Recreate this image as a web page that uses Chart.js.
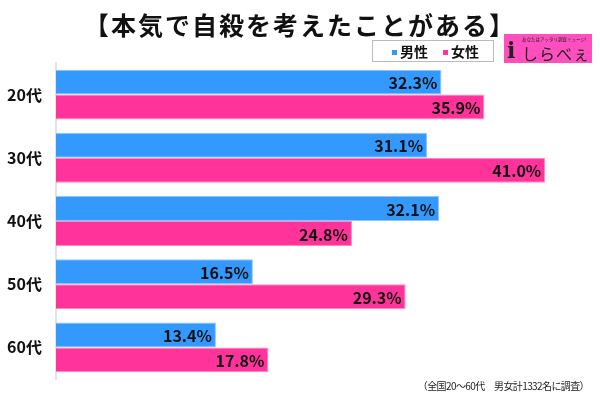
<!DOCTYPE html>
<html>
<head>
<meta charset="utf-8">
<script src="https://cdn.jsdelivr.net/npm/chart.js@4/dist/chart.umd.min.js"></script>
<style>
  html, body { margin: 0; padding: 0; background: #fff; }
  body { width: 600px; height: 397px; position: relative; overflow: hidden;
         font-family: "Noto Sans CJK JP", "Noto Sans", sans-serif; }
  #wrap { position: absolute; left: 0; top: 0; width: 600px; height: 397px; }
  .title { position: absolute; left: 50px; top: 7px; width: 500px; text-align: center;
           font-size: 25px; font-weight: bold; color: #111; line-height: 34px; letter-spacing: 2px; }
  .legend { position: absolute; left: 372px; top: 40px; width: 120px; height: 20px;
            border: 1px solid #bbb; font-size: 14px; font-weight: bold; line-height: 20px; color: #111; }
  .legend .item { position: absolute; top: 0; white-space: nowrap; }
  .legend .sw { display: inline-block; width: 5px; height: 5px; margin: 0 3px 2px 0; vertical-align: middle; }
  .logo { position: absolute; left: 504px; top: 34px; width: 88px; height: 29px; background: #ff4fbf; }
  .logo .tag { position: absolute; left: 18px; top: 2px; font-size: 5px; color: #222; white-space: nowrap; transform: scale(0.9); transform-origin: left top; }
  .logo .icon { position: absolute; left: 3px; top: 4px; font-size: 22px; font-weight: bold; color: #222; line-height: 24px; font-family: "DejaVu Serif", serif; }
  .logo .name { position: absolute; left: 18px; top: 9px; font-size: 16px; color: #222; line-height: 20px; white-space: nowrap; letter-spacing: 1px; }
  .note { position: absolute; right: 11px; top: 378px; font-size: 10px; color: #222; white-space: nowrap; letter-spacing: -0.6px; }
</style>
</head>
<body>
<div id="wrap"><canvas id="chart" width="600" height="397"></canvas></div>
<div class="title">【本気で自殺を考えたことがある】</div>
<div class="legend">
  <span class="item" style="left:19px;"><span class="sw" style="background:#3399ff"></span>男性</span>
  <span class="item" style="left:70px;"><span class="sw" style="background:#ff3399"></span>女性</span>
</div>
<div class="logo"><div class="tag">あなたはアッタリ調査ミュージ!</div><div class="icon">i</div><div class="name">しらべぇ</div></div>
<div class="note">（全国20〜60代　男女計1332名に調査）</div>
<script>
const categories = ['20代', '30代', '40代', '50代', '60代'];
const seriesNames = ['男性', '女性'];
const maleValues = [32.3, 31.1, 32.1, 16.5, 13.4];
const femaleValues = [35.9, 41.0, 24.8, 29.3, 17.8];

const barLabels = {
  id: 'barLabels',
  afterDatasetsDraw(chart) {
    const ctx = chart.ctx;
    ctx.save();
    ctx.font = 'bold 16px "Noto Sans CJK JP", "Noto Sans", sans-serif';
    ctx.fillStyle = '#111';
    ctx.textAlign = 'right';
    ctx.textBaseline = 'middle';
    chart.data.datasets.forEach((ds, i) => {
      chart.getDatasetMeta(i).data.forEach((bar, j) => {
        ctx.fillText(ds.data[j].toFixed(1) + '%', bar.x - 4, bar.y + 1);
      });
    });
    ctx.restore();
  }
};

new Chart(document.getElementById('chart'), {
  type: 'bar',
  data: {
    labels: categories,
    datasets: [
      { label: seriesNames[0], data: maleValues, backgroundColor: '#3399ff', borderColor: '#8cc6ff', borderWidth: 1, borderSkipped: 'left' },
      { label: seriesNames[1], data: femaleValues, backgroundColor: '#ff3399', borderColor: '#ff8cc6', borderWidth: 1, borderSkipped: 'left' }
    ]
  },
  options: {
    indexAxis: 'y',
    responsive: false,
    animation: false,
    barPercentage: 1,
    categoryPercentage: 0.79,
    layout: { padding: { top: 63, right: 7, bottom: 18, left: 0 } },
    plugins: { legend: { display: false }, tooltip: { enabled: false } },
    scales: {
      x: { display: false, min: 0, max: 45 },
      y: {
        afterFit(scale) { scale.width = 56; },
        grid: { display: false },
        border: { display: true, color: '#e4e4e4', width: 2 },
        ticks: {
          color: '#111',
          padding: 6,
          font: { size: 16, weight: 'bold', family: '"Noto Sans CJK JP", "Noto Sans", sans-serif' }
        }
      }
    }
  },
  plugins: [barLabels]
});
</script>
</body>
</html>
